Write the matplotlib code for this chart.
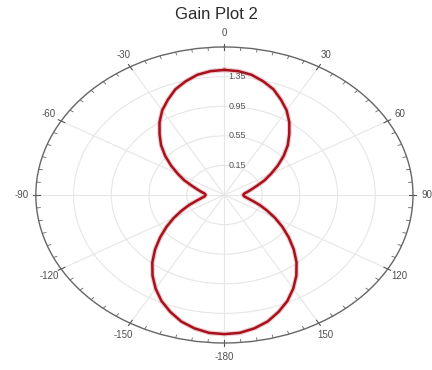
import numpy as np
import matplotlib.pyplot as plt

# gain pattern, angle in degrees (clockwise from top)
angle_deg = list(range(0, 365, 5))
gain = [1.44, 1.43, 1.40, 1.34, 1.27, 1.17, 1.07, 0.95, 0.82, 0.70,
        0.57, 0.44, 0.32, 0.22, 0.12, 0.05, 0.00, -0.04, -0.05,
        -0.04, 0.00, 0.06, 0.15, 0.25, 0.37, 0.50, 0.64, 0.79,
        0.94, 1.08, 1.21, 1.33, 1.43, 1.52, 1.58, 1.62, 1.63,
        1.62, 1.58, 1.52, 1.43, 1.33, 1.21, 1.08, 0.94, 0.79,
        0.64, 0.50, 0.37, 0.25, 0.15, 0.06, 0.00, -0.04, -0.05,
        -0.04, 0.00, 0.05, 0.12, 0.22, 0.32, 0.44, 0.57, 0.70,
        0.82, 0.95, 1.07, 1.17, 1.27, 1.34, 1.40, 1.43, 1.44]

ring_values = [0.15, 0.55, 0.95, 1.35]
ring_labels = ["0.15", "0.55", "0.95", "1.35"]
theta_ticks = [0, 30, 60, 90, 120, 150, 180, 210, 240, 270, 300, 330]
theta_labels = ["0", "30", "60", "90", "120", "150", "-180",
                "-150", "-120", "-90", "-60", "-30"]
r_min, r_max = -0.25, 1.75

plt.rcParams['font.family'] = ['Liberation Sans', 'DejaVu Sans']

fig = plt.figure(figsize=(4.32, 3.70), dpi=100)
ax = fig.add_axes([0.083, 0.073, 0.873, 0.80], projection='polar')
ax.set_theta_zero_location('N')
ax.set_theta_direction(-1)

theta = np.deg2rad(angle_deg)
ax.plot(theta, gain, color='#e0a8ac', lw=3.4, alpha=0.6)
ax.plot(theta, gain, color='#a8101c', lw=1.8)

# rings and spokes
ax.set_yticks(ring_values)
ax.set_yticklabels([])
for r, lab in zip(ring_values, ring_labels):
    ax.annotate(lab, xy=(0, r), xytext=(3, 0), textcoords='offset points',
                ha='left', va='center', fontsize=6.5, color='#555555')

ax.set_xticks(np.deg2rad(theta_ticks))
ax.set_xticklabels(theta_labels)
ax.tick_params(axis='x', which='major', labelsize=7, labelcolor='#505050',
               length=0, pad=3)
ax.grid(True, color='#e6e6e6', lw=0.8)
ax.spines['polar'].set_color('#666666')
ax.spines['polar'].set_linewidth(1.0)

# tick marks around the rim: every 5 deg inward, longer across the rim at 30 deg
for d in range(0, 360, 5):
    t = np.deg2rad(d)
    if d % 30 == 0:
        ax.plot([t, t], [r_max - 0.045, r_max + 0.035], color='#555555',
                lw=0.8, clip_on=False)
    else:
        ax.plot([t, t], [r_max - 0.04, r_max], color='#666666', lw=0.6)

ax.set_rlim(r_min, r_max)

# stretch into an ellipse like the original
ax.set_aspect('auto')

fig.suptitle("Gain Plot 2", y=0.982, fontsize=12, color='#2a2a2a')

fig.savefig("out.png", dpi=100)
